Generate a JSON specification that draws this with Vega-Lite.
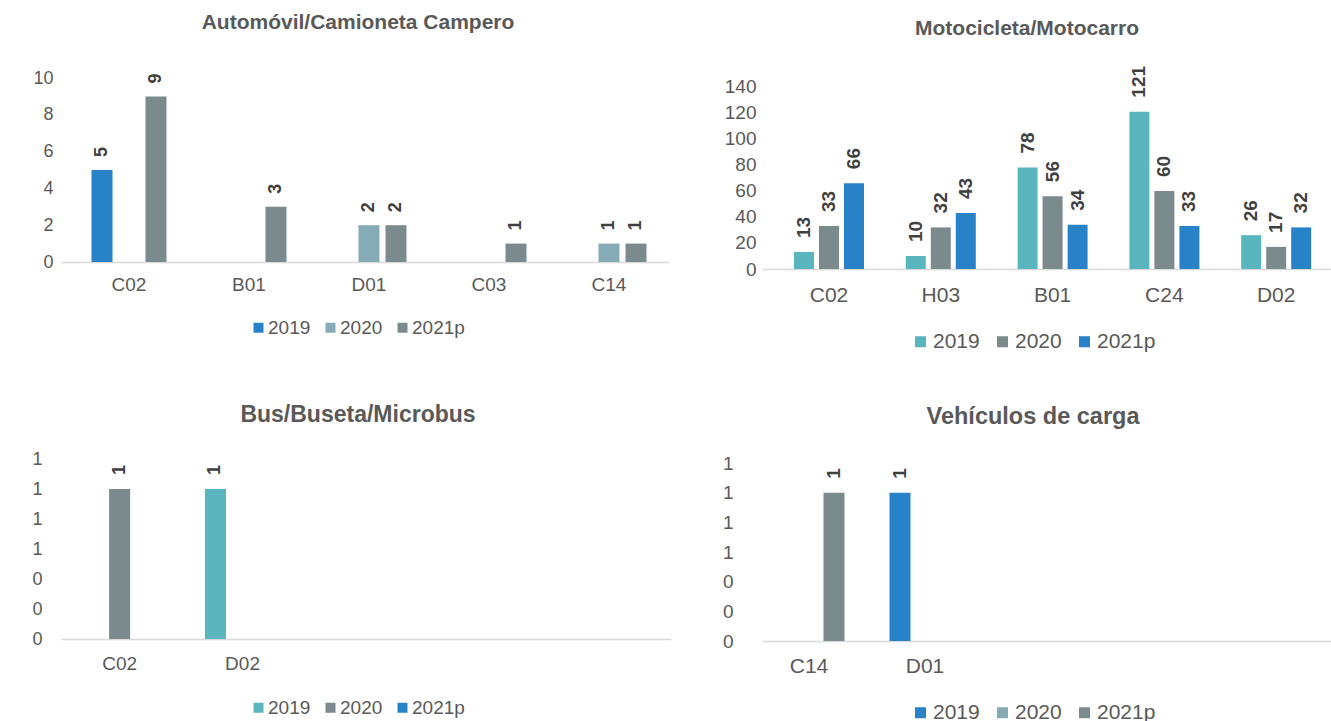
{
  "$schema": "https://vega.github.io/schema/vega-lite/v6.json",
  "background": "white",
  "padding": {"left": 31, "top": 12, "right": 0, "bottom": 0},
  "columns": 2,
  "spacing": {"row": 190, "column": 91},
  "bounds": "flush",
  "align": "each",
  "config": {"font": "Liberation Sans", "view": {"stroke": null}},
  "resolve": {"scale": {"color": "independent", "x": "independent", "y": "independent", "xOffset": "independent"}},
  "concat": [
    {
      "width": 608, "height": 184,
      "title": {"text": "Automóvil/Camioneta Campero", "fontSize": 21, "fontWeight": "bold", "color": "#595959", "frame": "group", "anchor": "middle", "dx": -7, "offset": 19, "baseline": "alphabetic"},
      "data": {"values": [
        {"zona": "C02", "anio": "2019", "valor": 5},
        {"zona": "C02", "anio": "2021p", "valor": 9},
        {"zona": "B01", "anio": "2021p", "valor": 3},
        {"zona": "D01", "anio": "2020", "valor": 2},
        {"zona": "D01", "anio": "2021p", "valor": 2},
        {"zona": "C03", "anio": "2021p", "valor": 1},
        {"zona": "C14", "anio": "2020", "valor": 1},
        {"zona": "C14", "anio": "2021p", "valor": 1}
      ]},
      "encoding": {
        "x": {"field": "zona", "type": "nominal", "sort": null,
          "scale": {"domain": ["C02", "B01", "D01", "C03", "C14"], "paddingInner": 0.325, "paddingOuter": 0.1958, "align": 0.585},
          "axis": {"title": null, "labelAngle": 0, "ticks": false, "domainColor": "#d9d9d9", "domainWidth": 1.5, "labelFontSize": 19, "labelColor": "#595959", "labelPadding": 13}},
        "xOffset": {"field": "anio", "type": "nominal", "scale": {"domain": ["2019", "2020", "2021p"], "paddingInner": 0.222, "paddingOuter": 0.111}},
        "y": {"field": "valor", "type": "quantitative", "scale": {"domain": [0, 10], "nice": false},
          "axis": {"title": null, "values": [0, 2, 4, 6, 8, 10], "domain": false, "ticks": false, "grid": false, "labelFontSize": 18, "labelColor": "#595959", "labelPadding": 8}}
      },
      "layer": [
        {"mark": {"type": "bar"},
         "encoding": {"color": {"field": "anio", "type": "nominal",
           "scale": {"domain": ["2019", "2020", "2021p"], "range": ["#2882c8", "#84abb6", "#7b8b8d"]},
           "legend": {"title": null, "orient": "none", "legendX": 188, "legendY": 240, "direction": "horizontal", "symbolType": "square", "symbolSize": 100, "symbolStrokeWidth": 0, "labelFontSize": 19, "labelColor": "#595959", "labelOffset": 0, "columnPadding": 10, "padding": 0}}}},
        {"mark": {"type": "text", "angle": 270, "align": "left", "baseline": "middle", "dx": 13, "fontSize": 18, "fontWeight": "bold", "color": "#404040"},
         "encoding": {"text": {"field": "valor", "type": "quantitative"}}}
      ]
    },
    {
      "width": 570, "height": 191,
      "title": {"text": "Motocicleta/Motocarro", "fontSize": 21, "fontWeight": "bold", "color": "#595959", "frame": "group", "anchor": "middle", "dx": -20, "offset": 10, "baseline": "alphabetic"},
      "data": {"values": [
        {"zona": "C02", "anio": "2019", "valor": 13},
        {"zona": "C02", "anio": "2020", "valor": 33},
        {"zona": "C02", "anio": "2021p", "valor": 66},
        {"zona": "H03", "anio": "2019", "valor": 10},
        {"zona": "H03", "anio": "2020", "valor": 32},
        {"zona": "H03", "anio": "2021p", "valor": 43},
        {"zona": "B01", "anio": "2019", "valor": 78},
        {"zona": "B01", "anio": "2020", "valor": 56},
        {"zona": "B01", "anio": "2021p", "valor": 34},
        {"zona": "C24", "anio": "2019", "valor": 121},
        {"zona": "C24", "anio": "2020", "valor": 60},
        {"zona": "C24", "anio": "2021p", "valor": 33},
        {"zona": "D02", "anio": "2019", "valor": 26},
        {"zona": "D02", "anio": "2020", "valor": 17},
        {"zona": "D02", "anio": "2021p", "valor": 32}
      ]},
      "encoding": {
        "x": {"field": "zona", "type": "nominal", "sort": null,
          "scale": {"domain": ["C02", "H03", "B01", "C24", "D02"], "paddingInner": 0.329, "paddingOuter": 0.2138, "align": 0.617},
          "axis": {"title": null, "labelAngle": 0, "ticks": false, "domainColor": "#d9d9d9", "domainWidth": 1.5, "labelFontSize": 21, "labelColor": "#595959", "labelPadding": 15}},
        "xOffset": {"field": "anio", "type": "nominal", "scale": {"domain": ["2019", "2020", "2021p"], "paddingInner": 0.2, "paddingOuter": 0.1}},
        "y": {"field": "valor", "type": "quantitative", "scale": {"domain": [0, 146.9], "nice": false},
          "axis": {"title": null, "values": [0, 20, 40, 60, 80, 100, 120, 140], "domain": false, "ticks": false, "grid": false, "labelFontSize": 19, "labelColor": "#595959", "labelPadding": 6}}
      },
      "layer": [
        {"mark": {"type": "bar"},
         "encoding": {"color": {"field": "anio", "type": "nominal",
           "scale": {"domain": ["2019", "2020", "2021p"], "range": ["#5ab6be", "#7b8b8d", "#2882c8"]},
           "legend": {"title": null, "orient": "none", "legendX": 148, "legendY": 253, "direction": "horizontal", "symbolType": "square", "symbolSize": 121, "symbolStrokeWidth": 0, "labelFontSize": 21, "labelColor": "#595959", "labelOffset": 2, "columnPadding": 12, "padding": 0}}}},
        {"mark": {"type": "text", "angle": 270, "align": "left", "baseline": "middle", "dx": 14, "fontSize": 19, "fontWeight": "bold", "color": "#404040"},
         "encoding": {"text": {"field": "valor", "type": "quantitative"}}}
      ]
    },
    {
      "width": 610, "height": 180,
      "title": {"text": "Bus/Buseta/Microbus", "fontSize": 23, "fontWeight": "bold", "color": "#595959", "frame": "group", "anchor": "middle", "dx": -8, "offset": 5, "baseline": "alphabetic"},
      "data": {"values": [
        {"zona": "C02", "anio": "2020", "valor": 1},
        {"zona": "D02", "anio": "2019", "valor": 1}
      ]},
      "encoding": {
        "x": {"field": "zona", "type": "nominal", "sort": null,
          "scale": {"domain": ["C02", "D02", " ", "  ", "   "], "paddingInner": 0.339, "paddingOuter": 0.1504, "align": 0.486},
          "axis": {"title": null, "labelAngle": 0, "ticks": false, "domainColor": "#d9d9d9", "domainWidth": 1.5, "labelFontSize": 19, "labelColor": "#595959", "labelPadding": 15}},
        "xOffset": {"field": "anio", "type": "nominal", "scale": {"domain": ["2019", "2020", "2021p"], "paddingInner": 0.222, "paddingOuter": 0.111}},
        "y": {"field": "valor", "type": "quantitative", "scale": {"domain": [0, 1.2], "nice": false},
          "axis": {"title": null, "values": [0, 0.2, 0.4, 0.6, 0.8, 1.0, 1.2], "format": ".0f", "domain": false, "ticks": false, "grid": false, "labelFontSize": 18, "labelColor": "#595959", "labelPadding": 19}}
      },
      "layer": [
        {"mark": {"type": "bar"},
         "encoding": {"color": {"field": "anio", "type": "nominal",
           "scale": {"domain": ["2019", "2020", "2021p"], "range": ["#5ab6be", "#7b8b8d", "#2882c8"]},
           "legend": {"title": null, "orient": "none", "legendX": 188, "legendY": 239, "direction": "horizontal", "symbolType": "square", "symbolSize": 100, "symbolStrokeWidth": 0, "labelFontSize": 19, "labelColor": "#595959", "labelOffset": 0, "columnPadding": 10, "padding": 0}}}},
        {"mark": {"type": "text", "angle": 270, "align": "left", "baseline": "middle", "dx": 14, "fontSize": 18, "fontWeight": "bold", "color": "#404040"},
         "encoding": {"text": {"field": "valor", "type": "quantitative"}}}
      ]
    },
    {
      "width": 570, "height": 182,
      "title": {"text": "Vehículos de carga", "fontSize": 23.5, "fontWeight": "bold", "color": "#595959", "frame": "group", "anchor": "middle", "dx": -14, "offset": 7, "baseline": "alphabetic"},
      "data": {"values": [
        {"zona": "C14", "anio": "2021p", "valor": 1},
        {"zona": "D01", "anio": "2019", "valor": 1}
      ]},
      "encoding": {
        "x": {"field": "zona", "type": "nominal", "sort": null,
          "scale": {"domain": ["C14", "D01", " ", "  ", "   "], "paddingInner": 0.3534, "paddingOuter": 0.1336, "align": 0.306},
          "axis": {"title": null, "labelAngle": 0, "ticks": false, "domainColor": "#d9d9d9", "domainWidth": 1.5, "labelFontSize": 21, "labelColor": "#595959", "labelPadding": 14}},
        "xOffset": {"field": "anio", "type": "nominal", "scale": {"domain": ["2019", "2020", "2021p"], "paddingInner": 0.16, "paddingOuter": 0.08}},
        "y": {"field": "valor", "type": "quantitative", "scale": {"domain": [0, 1.227], "nice": false},
          "axis": {"title": null, "values": [0, 0.2, 0.4, 0.6, 0.8, 1.0, 1.2], "format": ".0f", "domain": false, "ticks": false, "grid": false, "labelFontSize": 19, "labelColor": "#595959", "labelPadding": 29}}
      },
      "layer": [
        {"mark": {"type": "bar"},
         "encoding": {"color": {"field": "anio", "type": "nominal",
           "scale": {"domain": ["2019", "2020", "2021p"], "range": ["#2882c8", "#84abb6", "#7b8b8d"]},
           "legend": {"title": null, "orient": "none", "legendX": 148, "legendY": 243, "direction": "horizontal", "symbolType": "square", "symbolSize": 121, "symbolStrokeWidth": 0, "labelFontSize": 21, "labelColor": "#595959", "labelOffset": 2, "columnPadding": 12, "padding": 0}}}},
        {"mark": {"type": "text", "angle": 270, "align": "left", "baseline": "middle", "dx": 14, "fontSize": 19, "fontWeight": "bold", "color": "#404040"},
         "encoding": {"text": {"field": "valor", "type": "quantitative"}}}
      ]
    }
  ]
}
